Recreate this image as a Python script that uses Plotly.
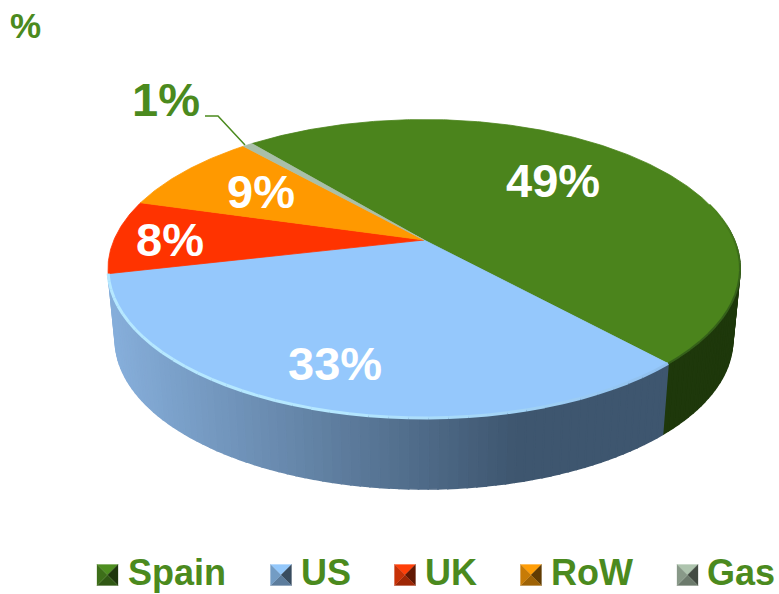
import math
import plotly.graph_objects as go

# ---- data ----
categories = ["Spain", "US", "UK", "RoW", "Gas"]
values = [49.2, 33.2, 8.0, 9.0, 0.6]
unit_label = "%"

# ---- style ----
top_colors = ["#4b841c", "#95c8fc", "#ff3300", "#ff9900", "#a9bfa9"]
swatch_colors = ["#4e8e20", "#94c8fb", "#ff3f08", "#ff9e08", "#aec4ae"]
side_left = ["#234010", "#86aeda", None, None, None]
side_right = ["#1e380b", "#3e566f", None, None, None]
text_green = "#4b8a1e"
FONT = "Liberation Sans, Arial, sans-serif"

# geometry of the tilted disc, in the pixel-sized axis units
CX, CY = 424.0, 240.0
A, B, K = 310.1, 143.7, 0.1927
DEPTH, SHRINK = 71.0, 0.977
START_DEG = -39.6
NEAR_FROM_DEG = 85.0


def top_pt(deg):
    u, v = math.sin(math.radians(deg)), math.cos(math.radians(deg))
    w = 1 + K * v
    return CX + A * u / w, CY - B * v / w


def bottom_pt(deg):
    x, y = top_pt(deg)
    return CX + (x - CX) * SHRINK, y + DEPTH


def mix(c1, c2, f):
    a = [int(c1[i:i + 2], 16) for i in (1, 3, 5)]
    b = [int(c2[i:i + 2], 16) for i in (1, 3, 5)]
    return "#%02x%02x%02x" % tuple(round(p + (q - p) * f) for p, q in zip(a, b))


def arc(d0, d1, step=1.0):
    n = max(2, int(abs(d1 - d0) / step) + 2)
    return [d0 + (d1 - d0) * i / (n - 1) for i in range(n)]


total = sum(values)
spans = []
cur = START_DEG
for val in values:
    spans.append((cur, cur + val / total * 360))
    cur += val / total * 360

fig = go.Figure()


def poly(xs, ys, color, name=None, lw=0.8):
    fig.add_trace(go.Scatter(x=xs, y=ys, mode="lines", fill="toself", fillcolor=color,
                             line=dict(color=color, width=lw), hoverinfo="skip",
                             showlegend=False, name=name))


# sides: short quads on the near half, coloured along x
for i, (d0, d1) in enumerate(spans):
    if side_left[i] is None:
        continue
    degs = arc(max(d0, NEAR_FROM_DEG), d1, 1.5)
    for a0, a1 in zip(degs[:-1], degs[1:]):
        p = [top_pt(a0), top_pt(a1), bottom_pt(a1), bottom_pt(a0)]
        mx = sum(q[0] for q in p) / 4
        f = min(1.0, max(0.0, (mx - 115) / 400))
        poly([q[0] for q in p] + [p[0][0]], [q[1] for q in p] + [p[0][1]],
             mix(side_left[i], side_right[i], f), lw=1.6)

# top faces
for i, (d0, d1) in enumerate(spans):
    pts = [top_pt(d) for d in arc(d0, d1, 0.5)]
    poly([CX] + [q[0] for q in pts] + [CX], [CY] + [q[1] for q in pts] + [CY],
         top_colors[i], categories[i])

# rim highlights along the near edge
for deg0, deg1, c0, c1, wid in [
    (75, spans[0][1], "#4b841c", "#35601a", 2.0),
    (spans[1][0], spans[1][1], "#8fbfee", "#b6e8ff", 3.0),
]:
    degs = arc(deg0, deg1, 3.0)
    for j, (a0, a1) in enumerate(zip(degs[:-1], degs[1:])):
        pts = [top_pt(a0), top_pt(a1)]
        f = min(1.0, j / (len(degs) * 0.45))
        fig.add_trace(go.Scatter(x=[q[0] for q in pts], y=[q[1] for q in pts], mode="lines",
                                 line=dict(color=mix(c0, c1, f), width=wid),
                                 hoverinfo="skip", showlegend=False))

# leader of the smallest slice
fig.add_trace(go.Scatter(x=[205, 218, 245], y=[116, 116, 145], mode="lines",
                         line=dict(color=text_green, width=1.5), hoverinfo="skip", showlegend=False))

# bevelled legend keys and names
key_x = [107.5, 281, 405, 531, 687.5]
name_x = [126, 299, 423, 549, 705]
key_y, key_r = 575, 10.5
for xc, tx, col, name in zip(key_x, name_x, swatch_colors, categories):
    corners = [(xc - key_r, key_y - key_r), (xc + key_r, key_y - key_r),
               (xc + key_r, key_y + key_r), (xc - key_r, key_y + key_r)]
    shades = [0.0, 0.62, 0.38, 0.22]   # top, right, bottom, left
    for k, sh in enumerate(shades):
        c0, c1 = corners[k], corners[(k + 1) % 4]
        poly([c0[0], c1[0], xc, c0[0]], [c0[1], c1[1], key_y, c0[1]], mix(col, "#000000", sh), lw=0.3)
    fig.add_annotation(x=tx, y=572.5, text=name, showarrow=False, xanchor="left",
                       font=dict(family=FONT, size=36, color=text_green, weight="bold"))

label_pos = [(553, 180), (335, 363), (170, 239), (261, 191), (166, 99)]
for val, (lx, ly) in zip(values, label_pos):
    fig.add_annotation(x=lx, y=ly, text=f"{val:.0f}%", showarrow=False,
                       font=dict(family=FONT, size=47, color="#ffffff" if val > 1 else text_green,
                                 weight="bold"))
fig.add_annotation(x=25, y=25, text=unit_label, showarrow=False,
                   font=dict(family=FONT, size=35, color=text_green, weight="bold"))

fig.update_layout(
    width=779, height=594, margin=dict(l=0, r=0, t=0, b=0), showlegend=False,
    paper_bgcolor="white", plot_bgcolor="white",
    xaxis=dict(range=[0, 779], visible=False, fixedrange=True),
    yaxis=dict(range=[594, 0], visible=False, fixedrange=True),
)
fig.write_html("out.html", config={"displayModeBar": False},
               post_script="document.body.style.margin='0';document.body.style.overflow='hidden';")
